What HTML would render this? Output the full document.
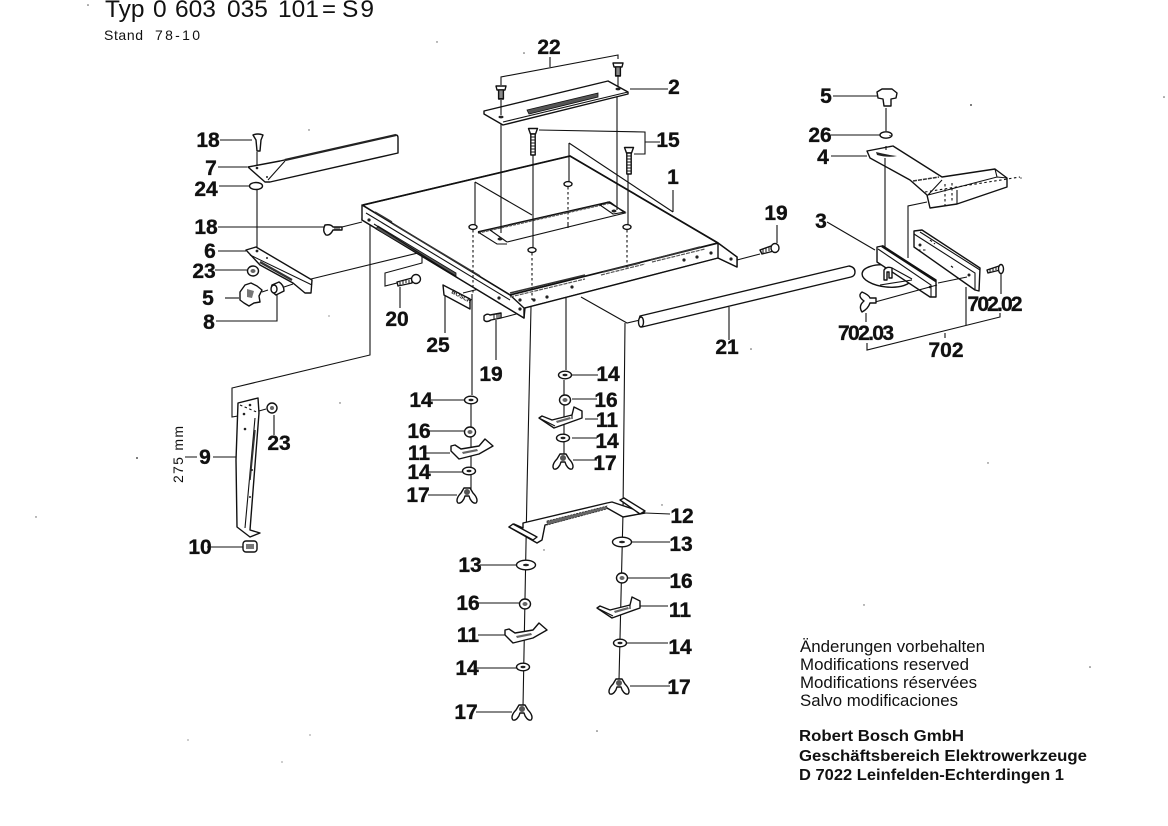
<!DOCTYPE html>
<html><head><meta charset="utf-8"><style>
html,body{margin:0;padding:0;background:#fff;width:1168px;height:826px;overflow:hidden}
svg{display:block}
text{font-family:"Liberation Sans",sans-serif;fill:#111}
.n{font-weight:bold;font-size:21px;text-anchor:middle;stroke:#111;stroke-width:.35}
.l{fill:none;stroke:#111;stroke-width:1.1}
.t{fill:none;stroke:#111;stroke-width:1.7}
.d{fill:none;stroke:#111;stroke-width:1.1;stroke-dasharray:2.5 2.5}
.p{fill:#fff;stroke:#111;stroke-width:1.4;stroke-linejoin:round}
.k{fill:#222}
.h{fill:#666}
</style></head><body>
<svg width="1168" height="826" viewBox="0 0 1168 826" xmlns="http://www.w3.org/2000/svg">
<defs>
<g id="w"><ellipse rx="6.5" ry="3.8" class="p"/><ellipse rx="2.5" ry="1.2" class="k"/></g>
<g id="W"><ellipse rx="9.5" ry="4.8" class="p"/><ellipse rx="3" ry="1.2" class="k"/></g>
<g id="nut"><ellipse rx="5.5" ry="5" class="p" stroke-width="1.8"/><ellipse rx="2.5" ry="2" class="h"/></g>
<g id="wing"><path class="p" d="M-3,-7 L3,-7 L6,-2 C10,2 11,6 9,8 C6,9 3,5 2,1 L-2,1 C-3,5 -6,9 -9,8 C-11,6 -10,2 -6,-2Z"/><ellipse cy="-3" rx="3" ry="3" fill="#555"/></g>
<g id="clipR"><path class="p" d="M-24,-2 L-21,-4 L-11,0 L9,-5 L11,-13 L19,-9 L19,-2 L-9,8Z"/><path class="l" d="M-22,-1 L-8,6 M9,-5 V-1"/><path class="h" d="M-7,1 L7,-3 L8,-1 L-6,3Z"/></g>
<g id="clipL"><path class="p" d="M-20,-4 L-16,-5 L-10,-1 L8,-4 L14,-11 L22,-4 L8,4 L-12,9 L-20,1Z"/><path class="h" d="M-9,2 L6,-1 L7,1 L-8,4Z"/></g>
<g id="screwS"><path class="p" d="M-5,-2 L5,-2 L4,2 L-4,2Z"/><rect x="-2.4" y="2" width="4.8" height="9" class="p"/><path d="M-2,4 H2 M-2,6 H2 M-2,8 H2 M-2,10 H2" stroke="#111" stroke-width="1"/></g>
<g id="screwL"><path class="p" d="M-4.5,-2.5 L4.5,-2.5 L2.5,3 L-2.5,3Z"/><rect x="-2.2" y="3" width="4.4" height="21" class="p"/><path d="M-2,6 H2 M-2,9 H2 M-2,12 H2 M-2,15 H2 M-2,18 H2 M-2,21 H2" stroke="#111" stroke-width="1"/></g>
</defs>

<!-- header -->
<g font-size="24.5">
<text x="105" y="17">Typ</text><text x="153" y="17">0</text><text x="175" y="17">603</text><text x="227" y="17">035</text><text x="278" y="17">101</text><text x="322" y="17" textLength="14" lengthAdjust="spacingAndGlyphs">=</text><text x="342" y="17" textLength="32">S9</text>
</g>
<g font-size="14">
<text x="104" y="40" textLength="39">Stand</text><text x="155" y="40" textLength="45">78-10</text>
</g>

<!-- assembly lines behind -->
<g class="l">
<path d="M370,221 V355 L232,388 V417 L238,416"/>
<path d="M311,279 L422,252 V263 L385,273 V286 L397,283"/>
<path d="M342,227 L362,222"/>
<path d="M737,260 L760,254"/>
<path d="M581,297 L627,323 L640,320"/>
<path d="M501,318 L520,313"/>
<path d="M463,293 L483,288"/>
<path d="M257,152 V165 M257,190 V248"/>
</g>

<!-- table top -->
<path class="p" d="M363,205 L570,156 L718,243 L737,257 L737,267 L718,258 L525,308 L524,318 L362,220Z"/>
<path class="t" d="M363,205 L570,156 L718,243 M362,205 L510,295 L718,243"/>
<path class="p" d="M718,243 L737,257 L737,267 L718,258Z"/>
<path class="p" d="M510,295 L524,308 L524,318 L362,220 L362,205Z"/>
<path class="l" d="M524,308 L718,258 M366,213 L510,300"/>
<path d="M378,226 L456,273 L456,276 L376,229Z" fill="#555" stroke="#111" stroke-width=".8"/>
<path class="l" d="M374,224 L458,278"/>
<path d="M375,212 L392,222 M393,224 L445,255 M445,255 L480,276 M510,293 L585,275 M603,272 L640,263 M650,260 L700,247" stroke="#333" stroke-width="1.5" fill="none"/>
<path d="M510,297 L585,279 M601,275 L645,264 M652,262 L705,249" stroke="#555" stroke-width="1.2" fill="none" stroke-dasharray="4 1"/>
<g class="k"><circle cx="369" cy="220" r="1.6"/><circle cx="499" cy="298" r="1.6"/><circle cx="520" cy="309" r="1.6"/><circle cx="520" cy="300" r="1.6"/><circle cx="534" cy="300" r="1.6"/><circle cx="547" cy="297" r="1.6"/><circle cx="572" cy="287" r="1.6"/><circle cx="684" cy="260" r="1.6"/><circle cx="697" cy="257" r="1.6"/><circle cx="711" cy="253" r="1.6"/><circle cx="731" cy="259" r="1.6"/></g>
<!-- top slot -->
<path class="l" d="M507,242 L625,213 L610,202"/>
<path class="t" d="M478,232 L610,202"/>
<path d="M478,233 L610,203" stroke="#555" stroke-width="1.5" stroke-dasharray="3 1" fill="none"/>
<path class="l" d="M478,232 L497,244 H507 M490,230 L507,242 M600,205 L608,202 L625,212 L613,214Z"/>
<ellipse cx="500" cy="239" rx="2.5" ry="1.5" class="k"/>
<ellipse cx="614" cy="211" rx="2.5" ry="1.5" class="k"/>
<!-- exploded-view lines over the table -->
<g class="l">
<path d="M501,122 V233"/>
<path d="M618,75 V88 M617,92 V210"/>
<path d="M475,182 V225 M475,182 L532,215"/>
<path d="M569,143 V183 M569,143 L673,212"/>
</g>
<g class="d"><path d="M473,230 V293 M532,253 V300 M568,187 V222 M627,230 V268"/></g>
<path class="l" d="M568,222 V228"/>
<g><ellipse cx="473" cy="227" rx="4" ry="2.4" class="p"/><ellipse cx="532" cy="250" rx="4" ry="2.4" class="p"/><ellipse cx="568" cy="184" rx="4" ry="2.4" class="p"/><ellipse cx="627" cy="227" rx="4" ry="2.4" class="p"/></g>
<path class="l" d="M673,190 V212"/>
<path class="l" d="M533,155 V248 M628,173 V225"/>

<!-- lower verticals -->
<g class="l">
<path d="M472,294 V395 M471,404 V492"/>
<path d="M531,307 L527,490 L523,707"/>
<path d="M566,297 V370 M564,380 V455"/>
<path d="M625,323 L623,513 L619,680"/>
</g>

<!-- plate 2 -->
<path class="p" d="M484,111 L608,81 L628,92 L628,94 L503,125 L484,114Z"/>
<path class="l" d="M503,122 L628,92"/>
<path d="M527,110 L598,93 L598,97 L529,114Z" fill="#555" stroke="#111" stroke-width=".8"/>
<ellipse cx="501" cy="117" rx="2.5" ry="1.4" class="k"/><ellipse cx="618" cy="89" rx="2.5" ry="1.4" class="k"/>
<path class="l" d="M630,89 H668 M501,100 V115"/>
<use href="#screwS" x="501" y="88"/>
<use href="#screwS" x="618" y="65"/>
<path class="l" d="M501,85 V77 L618,55 V59 M550,57 V67"/>
<use href="#screwL" x="533" y="131"/>
<use href="#screwL" x="629" y="150"/>
<path class="l" d="M539,130 L645,132 V154 L634,154 M645,142 H660"/>

<!-- rod 21 -->
<path class="p" d="M640,316 L849,266 Q855,267 855,272 Q855,276 851,277 L642,327 Q638,322 640,316Z"/>
<ellipse cx="641" cy="322" rx="2.5" ry="5" class="p"/>
<path class="l" d="M729,307 V340"/>

<!-- left guard -->
<path class="p" d="M248,167 L280,161 L396,135 Q398,135 398,138 L398,153 L270,182 L265,182Z"/>
<path class="l" d="M268,180 L285,161"/>
<path d="M285,160 L396,135" stroke="#222" stroke-width="2.2" fill="none"/>
<circle cx="257" cy="168" r="1.3" class="k"/><circle cx="267" cy="177" r="1" class="k"/>
<path class="p" d="M253,135 Q258,133 263,135 L261,140 L260,151 L257,151 L256,140Z"/>
<path class="l" d="M220,140 H252 M218,167 H247 M219,186 H250"/>
<ellipse cx="256" cy="186" rx="6.5" ry="3.5" class="p"/>
<!-- bracket 6 -->
<path class="p" d="M246,250 L256,247 L312,280 L311,293 L305,293 L293,283 L260,265 Z"/>
<path class="l" d="M250,255 L312,285"/>
<path d="M260,262 L292,280" stroke="#333" stroke-width="2.4"/>
<circle cx="257" cy="251" r="1.4" class="k"/><circle cx="267" cy="258" r="1" class="k"/>
<path class="l" d="M218,251 H246 M215,270 H248"/>
<use href="#nut" x="253" y="271"/>
<!-- knob 5 -->
<path class="p" d="M240,292 L245,285 L251,283 L257,286 L262,290 L259,296 L260,302 L254,303 L249,306 L244,303 L240,300Z"/>
<path d="M247,289 L254,291 L252,298 L247,297Z" fill="#777"/>
<path class="l" d="M225,298 H239"/>
<path class="l" d="M262,292 L268,290"/>
<path class="p" d="M272,285 L279,282 Q284,285 284,291 L276,295 Q270,291 272,285Z"/>
<ellipse cx="274" cy="289" rx="3" ry="4" class="p"/>
<path class="l" d="M284,287 L293,284 M277,295 V321 H216"/>
<!-- screw 18 horizontal -->
<path class="p" d="M325,225 Q331,224 333,227 H342 V230 H333 Q330,236 326,235 Q322,231 325,225Z"/>
<path d="M335,227 V230 M337,227 V230 M339,227 V230" stroke="#111"/>
<path class="l" d="M218,227 H324"/>
<!-- screw 20 -->
<path class="p" d="M397,282 L412,278 V283 L398,286Z"/>
<path d="M400,282 V285 M403,281 V284 M406,280 V283 M409,280 V283" stroke="#111"/>
<ellipse cx="416" cy="279" rx="4.5" ry="4.5" class="p"/>
<path class="l" d="M400,287 V308"/>
<!-- screw 19 left -->
<path class="p" d="M484,316 Q487,313 490,315 L501,313 V318 L491,320 Q486,323 484,320Z"/>
<path d="M494,314 V319 M497,314 V318 M499,314 V318" stroke="#111"/>
<path class="l" d="M496,320 V360"/>
<!-- plate 25 -->
<path class="p" d="M443,285 L470,299 L470,309 L444,295Z"/>
<text x="451" y="293" font-size="6" font-weight="bold" transform="rotate(28 451 293)">BOSCH</text>
<path class="l" d="M445,296 V333"/>
<!-- screw 19 right -->
<path class="p" d="M760,250 L771,246 L774,251 L762,254Z"/>
<path d="M763,249 V253 M766,248 V252 M769,247 V251" stroke="#111"/>
<ellipse cx="775" cy="248" rx="4" ry="4.5" class="p"/>
<path class="l" d="M777,243 V225"/>

<!-- right assembly -->
<path class="p" d="M877,92 L882,89 L892,89 L897,93 L896,98 L891,99 L891,106 H884 L883,99 L878,98Z"/>
<path class="l" d="M833,96 H877"/>
<path class="l" d="M886,108 V131"/>
<ellipse cx="886" cy="135" rx="6" ry="3.2" class="p" stroke-width="1.8"/>
<path class="l" d="M831,135 H880"/>
<!-- part 3 disc & lines behind -->
<ellipse cx="887" cy="276" rx="25" ry="11" transform="rotate(6 887 276)" class="p"/>
<path class="l" d="M927,202 L908,206 V258"/>
<!-- part 4 -->
<path class="p" d="M867,151 L893,146 L942,177 L995,169 L1007,178 L1007,187 L957,204 L930,208 L927,195 L910,180 L870,158Z"/>
<path class="l" d="M942,180 L928,195 L997,177 L1007,178 M957,190 V204 M995,169 L997,177"/>
<path d="M877,155 Q888,158 897,156 Q888,155 876,152Z" fill="#222"/>
<path d="M913,181 L939,177" stroke="#333" stroke-width="1.5" stroke-dasharray="4 1"/>
<path class="d" d="M945,184 V205 M952,183 V203 M925,192 L1020,177"/>
<path class="l" d="M831,156 H867 M886,146 V150 M885,158 V270 M890,135 L890,136"/>
<!-- part 3 plate -->
<path class="l" d="M827,222 L875,250"/>
<path class="p" d="M877,247 L882,246 L936,280 L936,297 L930,297 L877,262Z"/>
<path d="M882,246 L936,281" stroke="#111" stroke-width="2.6"/>
<path class="l" d="M878,249 L931,285 V297"/>
<path class="p" d="M884,280 V270 Q887,266 892,268 V278 H889 V272 H887 V280Z"/>
<circle cx="930" cy="287" r="1.3" class="k"/>
<path class="l" d="M892,268 L912,279 M880,285 L912,280"/>
<!-- rail -->
<path class="p" d="M914,231 L922,230 L980,268 L979,291 L975,290 L914,247Z"/>
<path class="l" d="M920,232 L980,270 M914,234 L975,273 V290"/>
<circle cx="920" cy="245" r="1.5" class="k"/><circle cx="969" cy="275" r="1.5" class="k"/>
<path class="d" d="M918,250 L926,250 M930,240 L935,244 M951,266 L955,269"/>
<path class="l" d="M875,302 L937,285 M938,283 L967,277 M966,287 V325 M867,343 V350 L1000,317 V313 M945,333 V338"/>
<path class="p" d="M987,270 L999,266 L1000,270 L988,273Z"/>
<path d="M990,269 V272 M993,268 V271 M996,267 V270" stroke="#111"/>
<ellipse cx="1001" cy="269" rx="2.5" ry="4.5" class="p"/>
<path class="l" d="M1001,273 V294"/>
<!-- wing 702.03 -->
<path class="p" d="M862,292 Q869,295 870,298 L876,298 V303 L870,303 Q868,309 862,312 Q858,306 864,301 Q857,296 862,292Z"/>
<path class="l" d="M866,313 V322"/>

<!-- leg 9 -->
<path class="p" d="M238,403 L258,398 L259,413 L250,530 L260,533 L250,537 L237,527 L236,460Z"/>
<path class="d" d="M240,405 L259,413"/>
<path class="l" d="M255,418 L245,528"/>
<path d="M255,430 L250,480" stroke="#333" stroke-width="1.5"/>
<circle cx="244" cy="414" r="1.3" class="k"/><circle cx="250" cy="405" r="1.3" class="k"/><circle cx="245" cy="429" r="1.3" class="k"/>
<circle cx="252" cy="470" r="1" class="k"/><circle cx="250" cy="497" r="1" class="k"/>
<path class="l" d="M259,411 L266,409 M274,415 V435"/>
<ellipse cx="272" cy="408" rx="5" ry="5" class="p"/><circle cx="272" cy="408" r="2" fill="#666"/>
<path class="l" d="M185,457 H197 M213,457 H236 M207,547 H243"/>
<rect x="243" y="541" width="14" height="11" rx="3" class="p"/>
<rect x="246" y="544" width="8" height="5" fill="#777"/>
<text transform="translate(183,483) rotate(-90)" font-size="14" textLength="57">275 mm</text>

<!-- center column lower -->
<g class="l">
<path d="M431,400 H464 M429,431 H465 M426,453 H450 M427,472 H462 M428,495 H457"/>
<path d="M572,375 H598 M572,399 H597 M585,419 H598 M572,438 H597 M573,460 H597"/>
<path d="M645,513 L670,514 M632,542 H670 M627,578 H670 M640,606 H668 M626,643 H668 M630,686 H670"/>
<path d="M480,565 H516 M478,603 H520 M478,635 H505 M477,668 H517 M476,712 H512"/>
</g>
<use href="#w" x="471" y="400"/>
<use href="#nut" x="470" y="432"/>
<use href="#clipL" x="471" y="450"/>
<use href="#w" x="469" y="471"/>
<use href="#wing" x="467" y="495"/>
<use href="#w" x="565" y="375"/>
<use href="#nut" x="565" y="400"/>
<use href="#clipR" x="563" y="420"/>
<use href="#w" x="563" y="438"/>
<use href="#wing" x="563" y="461"/>
<use href="#W" x="622" y="542"/>
<use href="#nut" x="622" y="578"/>
<use href="#clipR" x="621" y="610"/>
<use href="#w" x="620" y="643"/>
<use href="#wing" x="619" y="686"/>
<use href="#W" x="526" y="565"/>
<use href="#nut" x="525" y="604"/>
<use href="#clipL" x="525" y="634"/>
<use href="#w" x="523" y="667"/>
<use href="#wing" x="522" y="712"/>

<!-- part 12 -->
<path class="p" d="M523,523 L607,503 L612,502 L645,513 L623,517 L607,508 L545,525 L542,540 L537,543 L509,527 L514,524 L523,528Z"/>
<path d="M547,521 L607,506 L607,509 L547,525Z" fill="#666" stroke="#222" stroke-width=".7" stroke-dasharray="2 1"/>
<path class="p" d="M509,527 L513,524 L537,537 L533,540Z"/>
<path class="p" d="M620,500 L624,498 L645,511 L640,514Z"/>

<!-- labels -->
<text class="n" x="549" y="54">22</text>
<text class="n" x="674" y="94">2</text>
<text class="n" x="668" y="147">15</text>
<text class="n" x="673" y="184">1</text>
<text class="n" x="776" y="220">19</text>
<text class="n" x="821" y="228">3</text>
<text class="n" x="826" y="103">5</text>
<text class="n" x="820" y="142">26</text>
<text class="n" x="823" y="164">4</text>
<text class="n" x="995" y="311" textLength="55">702.02</text>
<text class="n" x="866" y="340" textLength="56">702.03</text>
<text class="n" x="946" y="357">702</text>
<text class="n" x="727" y="354">21</text>
<text class="n" x="208" y="147">18</text>
<text class="n" x="211" y="175">7</text>
<text class="n" x="206" y="196">24</text>
<text class="n" x="206" y="234">18</text>
<text class="n" x="210" y="258">6</text>
<text class="n" x="204" y="278">23</text>
<text class="n" x="208" y="305">5</text>
<text class="n" x="209" y="329">8</text>
<text class="n" x="397" y="326">20</text>
<text class="n" x="438" y="352">25</text>
<text class="n" x="491" y="381">19</text>
<text class="n" x="608" y="381">14</text>
<text class="n" x="606" y="407">16</text>
<text class="n" x="607" y="427">11</text>
<text class="n" x="607" y="448">14</text>
<text class="n" x="605" y="470">17</text>
<text class="n" x="421" y="407">14</text>
<text class="n" x="419" y="438">16</text>
<text class="n" x="419" y="460">11</text>
<text class="n" x="419" y="479">14</text>
<text class="n" x="418" y="502">17</text>
<text class="n" x="205" y="464">9</text>
<text class="n" x="279" y="450">23</text>
<text class="n" x="200" y="554">10</text>
<text class="n" x="682" y="523">12</text>
<text class="n" x="681" y="551">13</text>
<text class="n" x="681" y="588">16</text>
<text class="n" x="680" y="617">11</text>
<text class="n" x="680" y="654">14</text>
<text class="n" x="679" y="694">17</text>
<text class="n" x="470" y="572">13</text>
<text class="n" x="468" y="610">16</text>
<text class="n" x="468" y="642">11</text>
<text class="n" x="467" y="675">14</text>
<text class="n" x="466" y="719">17</text>

<!-- notes -->
<g font-size="17">
<text x="800" y="652" textLength="185" lengthAdjust="spacingAndGlyphs">Änderungen vorbehalten</text>
<text x="800" y="670" textLength="169" lengthAdjust="spacingAndGlyphs">Modifications reserved</text>
<text x="800" y="688" textLength="177" lengthAdjust="spacingAndGlyphs">Modifications réservées</text>
<text x="800" y="706" textLength="158" lengthAdjust="spacingAndGlyphs">Salvo modificaciones</text>
</g>
<g font-size="15.5" font-weight="bold">
<text x="799" y="741" textLength="165" lengthAdjust="spacingAndGlyphs">Robert Bosch GmbH</text>
<text x="799" y="761" textLength="288" lengthAdjust="spacingAndGlyphs">Geschäftsbereich Elektrowerkzeuge</text>
<text x="799" y="780" textLength="265" lengthAdjust="spacingAndGlyphs">D 7022 Leinfelden-Echterdingen 1</text>
</g>

<!-- specks -->
<g fill="#555">
<circle cx="88" cy="5" r=".8"/><circle cx="137" cy="458" r="1"/><circle cx="36" cy="517" r=".7"/><circle cx="309" cy="130" r=".7"/><circle cx="437" cy="42" r=".7"/><circle cx="524" cy="53" r=".8"/><circle cx="971" cy="105" r="1"/><circle cx="1164" cy="97" r=".8"/><circle cx="1021" cy="178" r=".8"/><circle cx="751" cy="349" r=".8"/><circle cx="864" cy="605" r=".7"/><circle cx="1090" cy="667" r=".8"/><circle cx="597" cy="731" r=".8"/><circle cx="188" cy="740" r=".6"/><circle cx="310" cy="735" r=".6"/><circle cx="282" cy="762" r=".6"/><circle cx="340" cy="403" r=".7"/><circle cx="988" cy="463" r=".7"/><circle cx="662" cy="505" r=".7"/><circle cx="544" cy="550" r=".7"/><circle cx="329" cy="316" r=".6"/>
</g>
</svg>
</body></html>
